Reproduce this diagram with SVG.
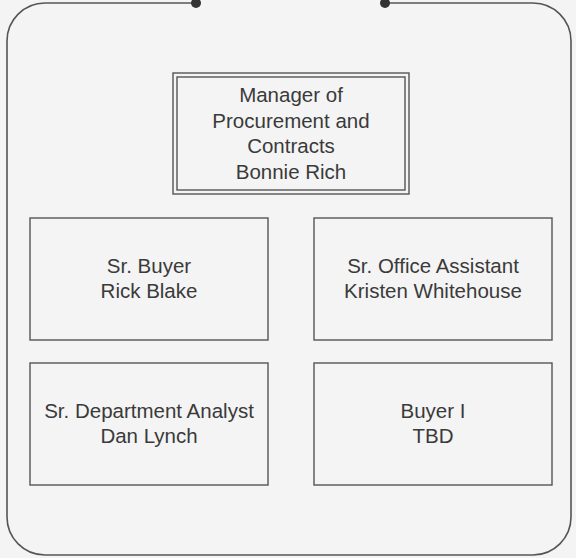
<svg xmlns="http://www.w3.org/2000/svg" width="576" height="558" viewBox="0 0 576 558">
  <style>
    .bg { fill: #f4f4f4; }
    .frame { fill: none; stroke: #555; stroke-width: 1.6; }
    .box { fill: #f4f4f4; stroke: #555; stroke-width: 1.4; }
    .dot { fill: #333; }
    text { font-family: "Liberation Sans", Arial, sans-serif; font-size: 20.5px; fill: #3a3a3a; text-anchor: middle; }
  </style>
  <rect class="bg" x="0" y="0" width="576" height="558"/>

  <!-- outer rounded frame, open along the top between the two terminals -->
  <g id="connectors">
    <path class="frame" d="M196 3 H45 A38 38 0 0 0 7 41 V517 A38 38 0 0 0 45 555 H533 A38 38 0 0 0 571 517 V41 A38 38 0 0 0 533 3 H385"/>
    <circle class="dot" cx="196" cy="3" r="5"/>
    <circle class="dot" cx="385" cy="3" r="5"/>
  </g>

  <g id="manager">
    <rect class="box" x="173" y="73" width="236" height="121"/>
    <rect class="box" x="177" y="77" width="228" height="113"/>
    <text x="291" y="102">Manager of</text>
    <text x="291" y="127.5">Procurement and</text>
    <text x="291" y="153">Contracts</text>
    <text x="291" y="178.5">Bonnie Rich</text>
  </g>

  <g id="sr-buyer">
    <rect class="box" x="30" y="218" width="238" height="122"/>
    <text x="149" y="273">Sr. Buyer</text>
    <text x="149" y="297.5">Rick Blake</text>
  </g>

  <g id="sr-office-assistant">
    <rect class="box" x="314" y="218" width="238" height="122"/>
    <text x="433" y="273">Sr. Office Assistant</text>
    <text x="433" y="297.5">Kristen Whitehouse</text>
  </g>

  <g id="sr-department-analyst">
    <rect class="box" x="30" y="363" width="238" height="122"/>
    <text x="149" y="418">Sr. Department Analyst</text>
    <text x="149" y="442.5">Dan Lynch</text>
  </g>

  <g id="buyer-i">
    <rect class="box" x="314" y="363" width="238" height="122"/>
    <text x="433" y="418">Buyer I</text>
    <text x="433" y="442.5">TBD</text>
  </g>
</svg>
